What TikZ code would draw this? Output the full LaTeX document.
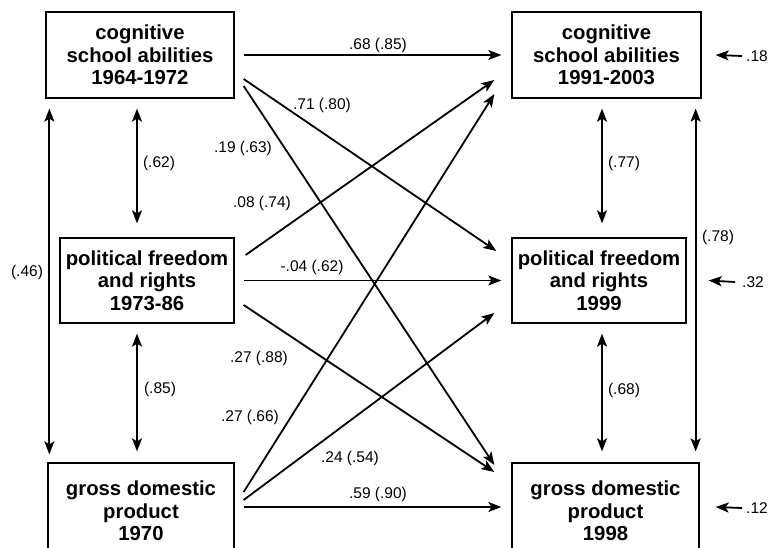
\documentclass[tikz,border=0pt]{standalone}
\usepackage{fontspec}
\setmainfont{Liberation Sans}
\usetikzlibrary{arrows.meta}
\tikzset{
  box/.style={draw, line width=1.3pt, align=center, inner sep=0pt,
    font=\bfseries\fontsize{20.3}{22.5}\selectfont},
  lab/.style={inner sep=0pt, font=\fontsize{15.5}{18}\selectfont},
  arr/.style={-{Stealth[length=13pt,width=10pt,inset=3pt]}, line width=1.8pt},
  darr/.style={{Stealth[length=13pt,width=10pt,inset=3pt]}-{Stealth[length=13pt,width=10pt,inset=3pt]}, line width=1.8pt}
}
\begin{document}
\begin{tikzpicture}[x=1pt,y=-1pt]
\useasboundingbox (0,0) rectangle (770,548);
\clip (0,0) rectangle (770,548);
% boxes
\node[box, minimum width=188pt, minimum height=86pt] (A) at (140,55) {cognitive\\school abilities\\1964-1972};
\node[box, minimum width=174pt, minimum height=85pt] (B) at (147,280.5) {political freedom\\and rights\\1973-86};
\node[box, minimum width=186pt, minimum height=96pt] (C) at (141,511) {gross domestic\\product\\1970};
\node[box, minimum width=189pt, minimum height=86pt] (D) at (606.5,55) {cognitive\\school abilities\\1991-2003};
\node[box, minimum width=174pt, minimum height=85pt] (E) at (599,280.5) {political freedom\\and rights\\1999};
\node[box, minimum width=187pt, minimum height=96pt] (F) at (605.5,511) {gross domestic\\product\\1998};
% paths
\draw[arr] ([shift={(9,0)}]A.east) -- ([shift={(-10,0)}]D.west);
\draw[arr] ([shift={(9,24)}]A.east) -- ([shift={(-15,-29.5)}]E.west);
\draw[arr] ([shift={(9,31)}]A.east) -- ([shift={(-17,-46)}]F.west);
\draw[arr] ([shift={(11,-25.5)}]B.east) -- ([shift={(-17,25)}]D.west);
\draw[arr] ([shift={(9,0)}]B.east) -- ([shift={(-10,0)}]E.west);
\draw[arr] ([shift={(9,24.5)}]B.east) -- ([shift={(-17,-39)}]F.west);
\draw[arr] ([shift={(9,-19)}]C.east) -- ([shift={(-17,39)}]D.west);
\draw[arr] ([shift={(9,-11)}]C.east) -- ([shift={(-17,32.5)}]E.west);
\draw[arr] ([shift={(9,-4)}]C.east) -- ([shift={(-10,-4)}]F.west);
% correlations
\draw[darr] ([shift={(4,10)}]A.south west) -- ([shift={(2,-8)}]C.north west);
\draw[darr] ([shift={(-3,10)}]A.south) -- ([shift={(-10,-14)}]B.north);
\draw[darr] ([shift={(-10,10)}]B.south) -- ([shift={(-4,-11)}]C.north);
\draw[darr] ([shift={(-4.5,10)}]D.south) -- ([shift={(3,-14)}]E.north);
\draw[darr] ([shift={(3,10)}]E.south) -- ([shift={(-3.5,-11)}]F.north);
\draw[darr] ([shift={(-6,10)}]D.south east) -- ([shift={(-4,-11)}]F.north east);
% labels
\node[lab] (l1) at (378,45) {.68 (.85)};
\node[lab] (l2) at (322,105) {.71 (.80)};
\node[lab] (l3) at (243,148) {.19 (.63)};
\node[lab] (l4) at (262,203) {.08 (.74)};
\node[lab] (l5) at (312,267) {-.04 (.62)};
\node[lab] (l6) at (259,358) {.27 (.88)};
\node[lab] (l7) at (250,417) {.27 (.66)};
\node[lab] (l8) at (350,458) {.24 (.54)};
\node[lab] (l9) at (378,494) {.59 (.90)};
\node[lab] (c1) at (27,272) {(.46)};
\node[lab] (c2) at (159,163) {(.62)};
\node[lab] (c3) at (160,389) {(.85)};
\node[lab] (c4) at (624,163) {(.77)};
\node[lab] (c5) at (624,390) {(.68)};
\node[lab] (c6) at (718,237) {(.78)};
% residuals
\node[lab, anchor=west] (r1) at (746,56) {.18};
\node[lab, anchor=west] (r2) at (742,282) {.32};
\node[lab, anchor=west] (r3) at (746,508) {.12};
\draw[arr] ([xshift=-4pt]r1.west) -- ([shift={(14,0)}]D.east);
\draw[arr] ([xshift=-7pt]r2.west) -- ([shift={(22,0)}]E.east);
\draw[arr] ([xshift=-4pt]r3.west) -- ([shift={(16,-4)}]F.east);
\end{tikzpicture}
\end{document}
